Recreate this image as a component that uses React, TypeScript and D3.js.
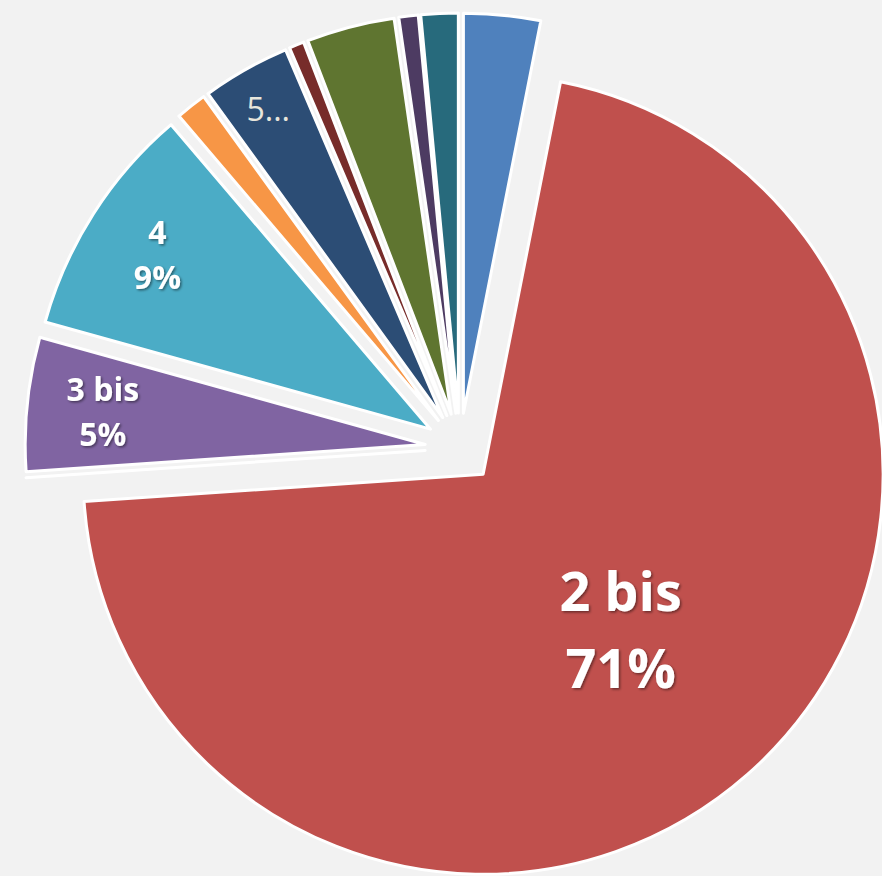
import React from "react";
import * as d3 from "d3";

const categories = ["2", "2 bis", "3", "3 bis", "4", "4 bis", "5", "5 bis", "6", "6 bis", "7"];
const values = [3.1, 70.8, 0, 5.4, 9.45, 1.25, 3.55, 0.6, 3.55, 0.78, 1.5];
const colors = ["#4F81BD", "#C0504D", "#9BBB59", "#8064A2", "#4BACC6", "#F79646", "#2C4D75", "#772C2A", "#5F7530", "#4D3B62", "#276A7C"];
const labelModes = ["none", "full", "none", "full", "full", "none", "trunc", "none", "none", "none", "none"];

const W = 882;
const H = 876;

export default function App() {
  const cx = 460;
  const cy = 448;
  const r = 400;
  const explode = 35;
  const total = d3.sum(values);
  const pie = d3.pie<number>().sort(null).value((v) => v).startAngle(0).endAngle(2 * Math.PI);
  const arcs = pie(values);
  const arc = d3.arc<d3.PieArcDatum<number>>().innerRadius(0).outerRadius(r);
  const pct = d3.format(".0%");

  const offsetOf = (a: d3.PieArcDatum<number>) => {
    const m = (a.startAngle + a.endAngle) / 2;
    return [Math.sin(m) * explode, -Math.cos(m) * explode];
  };
  const labelPos = (a: d3.PieArcDatum<number>) => {
    const m = (a.startAngle + a.endAngle) / 2;
    const share = a.value / total;
    const f = share > 0.5 ? 0.52 : share > 0.04 ? 0.81 : 0.885;
    return [Math.sin(m) * r * f, -Math.cos(m) * r * f];
  };

  return (
    <div style={{ position: "absolute", left: 0, top: 0, width: W, height: H }}>
      <svg width={W} height={H} style={{ display: "block", background: "#F2F2F2" }}>
        <defs>
          <filter id="ts" x="-20%" y="-20%" width="140%" height="140%">
            <feDropShadow dx="1.5" dy="1.5" stdDeviation="1.2" floodColor="#000" floodOpacity="0.45" />
          </filter>
        </defs>
        <rect width={W} height={H} fill="#F2F2F2" />
        <g transform={`translate(${cx},${cy})`}>
          {arcs.map((a, i) => {
            const [ox, oy] = offsetOf(a);
            return (
              <path
                key={i}
                d={arc(a) || ""}
                transform={`translate(${ox},${oy})`}
                fill={colors[i]}
                stroke="#FFFFFF"
                strokeWidth={3}
                strokeLinejoin="round"
              />
            );
          })}
          {arcs.map((a, i) => {
            const mode = labelModes[i];
            if (mode === "none") return null;
            const [ox, oy] = offsetOf(a);
            const [lx, ly] = labelPos(a);
            const x = ox + lx;
            const y = oy + ly;
            if (mode === "trunc") {
              const fs = 32;
              return (
                <text
                  key={"l" + i}
                  x={x}
                  y={y + fs * 0.36}
                  textAnchor="middle"
                  fontFamily="'Open Sans', sans-serif"
                  fontSize={fs}
                  fill="#E8E6DC"
                >
                  {categories[i] + "..."}
                </text>
              );
            }
            const big = a.value / total > 0.5;
            const fs = big ? 54 : 32;
            const gap = big ? 77 : 45;
            return (
              <g key={"l" + i} filter="url(#ts)" fontFamily="'Open Sans', sans-serif" fontWeight={700} fontSize={fs} fill="#FFFFFF" textAnchor="middle">
                <text x={x} y={y - gap / 2 + fs * 0.36}>{categories[i]}</text>
                <text x={x} y={y + gap / 2 + fs * 0.36}>{pct(a.value / total)}</text>
              </g>
            );
          })}
        </g>
      </svg>
    </div>
  );
}
